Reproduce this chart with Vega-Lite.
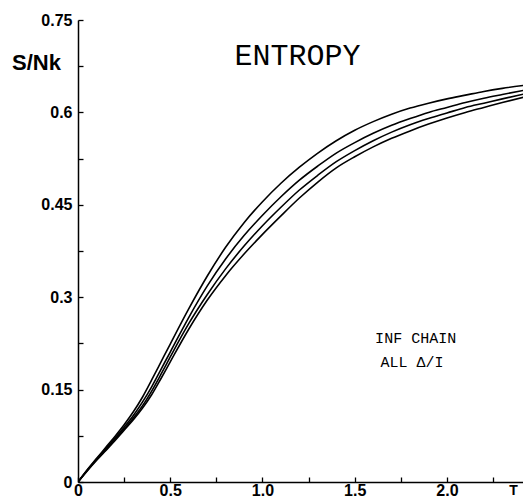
{
  "$schema": "https://vega.github.io/schema/vega-lite/v6.json",
  "width": 445,
  "height": 462,
  "autosize": {"type": "none"},
  "padding": {"left": 78, "top": 20, "right": 0, "bottom": 16},
  "background": "white",
  "config": {
    "view": {"stroke": null},
    "axis": {
      "grid": false,
      "domainColor": "black",
      "domainWidth": 1.5,
      "tickColor": "black",
      "tickWidth": 1.3,
      "labelColor": "black",
      "labelFont": "Liberation Sans",
      "labelFontWeight": "bold",
      "labelFontSize": 16,
      "titleColor": "black",
      "titleFont": "Liberation Sans",
      "titleFontWeight": "bold"
    }
  },
  "datasets": {
    "curves": [
      {"T": 0, "S": 0, "set": "a"}, {"T": 0.05, "S": 0.02, "set": "a"}, {"T": 0.1, "S": 0.038, "set": "a"}, {"T": 0.15, "S": 0.056, "set": "a"}, {"T": 0.2, "S": 0.074, "set": "a"}, {"T": 0.25, "S": 0.093, "set": "a"}, {"T": 0.3, "S": 0.114, "set": "a"}, {"T": 0.35, "S": 0.138, "set": "a"}, {"T": 0.4, "S": 0.166, "set": "a"}, {"T": 0.45, "S": 0.195, "set": "a"}, {"T": 0.5, "S": 0.224, "set": "a"}, {"T": 0.6, "S": 0.281, "set": "a"}, {"T": 0.7, "S": 0.334, "set": "a"}, {"T": 0.8, "S": 0.381, "set": "a"}, {"T": 0.9, "S": 0.421, "set": "a"}, {"T": 1.0, "S": 0.455, "set": "a"}, {"T": 1.1, "S": 0.485, "set": "a"}, {"T": 1.2, "S": 0.511, "set": "a"}, {"T": 1.3, "S": 0.534, "set": "a"}, {"T": 1.4, "S": 0.554, "set": "a"}, {"T": 1.5, "S": 0.571, "set": "a"}, {"T": 1.6, "S": 0.585, "set": "a"}, {"T": 1.7, "S": 0.597, "set": "a"}, {"T": 1.8, "S": 0.607, "set": "a"}, {"T": 1.9, "S": 0.615, "set": "a"}, {"T": 2.0, "S": 0.622, "set": "a"}, {"T": 2.1, "S": 0.628, "set": "a"}, {"T": 2.2, "S": 0.634, "set": "a"}, {"T": 2.3, "S": 0.639, "set": "a"}, {"T": 2.42, "S": 0.644, "set": "a"},
      {"T": 0, "S": 0, "set": "b"}, {"T": 0.05, "S": 0.019, "set": "b"}, {"T": 0.1, "S": 0.037, "set": "b"}, {"T": 0.15, "S": 0.054, "set": "b"}, {"T": 0.2, "S": 0.071, "set": "b"}, {"T": 0.25, "S": 0.089, "set": "b"}, {"T": 0.3, "S": 0.108, "set": "b"}, {"T": 0.35, "S": 0.13, "set": "b"}, {"T": 0.4, "S": 0.155, "set": "b"}, {"T": 0.45, "S": 0.183, "set": "b"}, {"T": 0.5, "S": 0.211, "set": "b"}, {"T": 0.6, "S": 0.267, "set": "b"}, {"T": 0.7, "S": 0.318, "set": "b"}, {"T": 0.8, "S": 0.362, "set": "b"}, {"T": 0.9, "S": 0.4, "set": "b"}, {"T": 1.0, "S": 0.433, "set": "b"}, {"T": 1.1, "S": 0.463, "set": "b"}, {"T": 1.2, "S": 0.49, "set": "b"}, {"T": 1.3, "S": 0.513, "set": "b"}, {"T": 1.4, "S": 0.534, "set": "b"}, {"T": 1.5, "S": 0.551, "set": "b"}, {"T": 1.6, "S": 0.566, "set": "b"}, {"T": 1.7, "S": 0.579, "set": "b"}, {"T": 1.8, "S": 0.59, "set": "b"}, {"T": 1.9, "S": 0.6, "set": "b"}, {"T": 2.0, "S": 0.608, "set": "b"}, {"T": 2.1, "S": 0.616, "set": "b"}, {"T": 2.2, "S": 0.623, "set": "b"}, {"T": 2.3, "S": 0.629, "set": "b"}, {"T": 2.42, "S": 0.636, "set": "b"},
      {"T": 0, "S": 0, "set": "c"}, {"T": 0.05, "S": 0.0185, "set": "c"}, {"T": 0.1, "S": 0.036, "set": "c"}, {"T": 0.15, "S": 0.052, "set": "c"}, {"T": 0.2, "S": 0.069, "set": "c"}, {"T": 0.25, "S": 0.086, "set": "c"}, {"T": 0.3, "S": 0.104, "set": "c"}, {"T": 0.35, "S": 0.124, "set": "c"}, {"T": 0.4, "S": 0.148, "set": "c"}, {"T": 0.45, "S": 0.175, "set": "c"}, {"T": 0.5, "S": 0.203, "set": "c"}, {"T": 0.6, "S": 0.257, "set": "c"}, {"T": 0.7, "S": 0.304, "set": "c"}, {"T": 0.8, "S": 0.346, "set": "c"}, {"T": 0.9, "S": 0.383, "set": "c"}, {"T": 1.0, "S": 0.416, "set": "c"}, {"T": 1.1, "S": 0.446, "set": "c"}, {"T": 1.2, "S": 0.474, "set": "c"}, {"T": 1.3, "S": 0.498, "set": "c"}, {"T": 1.4, "S": 0.52, "set": "c"}, {"T": 1.5, "S": 0.538, "set": "c"}, {"T": 1.6, "S": 0.554, "set": "c"}, {"T": 1.7, "S": 0.568, "set": "c"}, {"T": 1.8, "S": 0.58, "set": "c"}, {"T": 1.9, "S": 0.59, "set": "c"}, {"T": 2.0, "S": 0.599, "set": "c"}, {"T": 2.1, "S": 0.608, "set": "c"}, {"T": 2.2, "S": 0.615, "set": "c"}, {"T": 2.3, "S": 0.622, "set": "c"}, {"T": 2.42, "S": 0.63, "set": "c"},
      {"T": 0, "S": 0, "set": "d"}, {"T": 0.05, "S": 0.018, "set": "d"}, {"T": 0.1, "S": 0.035, "set": "d"}, {"T": 0.15, "S": 0.051, "set": "d"}, {"T": 0.2, "S": 0.067, "set": "d"}, {"T": 0.25, "S": 0.084, "set": "d"}, {"T": 0.3, "S": 0.101, "set": "d"}, {"T": 0.35, "S": 0.12, "set": "d"}, {"T": 0.4, "S": 0.142, "set": "d"}, {"T": 0.45, "S": 0.168, "set": "d"}, {"T": 0.5, "S": 0.195, "set": "d"}, {"T": 0.6, "S": 0.248, "set": "d"}, {"T": 0.7, "S": 0.295, "set": "d"}, {"T": 0.8, "S": 0.335, "set": "d"}, {"T": 0.9, "S": 0.37, "set": "d"}, {"T": 1.0, "S": 0.402, "set": "d"}, {"T": 1.1, "S": 0.432, "set": "d"}, {"T": 1.2, "S": 0.461, "set": "d"}, {"T": 1.3, "S": 0.487, "set": "d"}, {"T": 1.4, "S": 0.51, "set": "d"}, {"T": 1.5, "S": 0.528, "set": "d"}, {"T": 1.6, "S": 0.544, "set": "d"}, {"T": 1.7, "S": 0.558, "set": "d"}, {"T": 1.8, "S": 0.57, "set": "d"}, {"T": 1.9, "S": 0.581, "set": "d"}, {"T": 2.0, "S": 0.591, "set": "d"}, {"T": 2.1, "S": 0.6, "set": "d"}, {"T": 2.2, "S": 0.608, "set": "d"}, {"T": 2.3, "S": 0.616, "set": "d"}, {"T": 2.42, "S": 0.625, "set": "d"}
    ],
    "notes": [
      {"T": 1.19, "S": 0.692, "text": "ENTROPY", "kind": "title"},
      {"T": 1.83, "S": 0.234, "text": "INF CHAIN", "kind": "note"},
      {"T": 1.81, "S": 0.195, "text": "ALL Δ/I", "kind": "note"}
    ]
  },
  "layer": [
    {
      "data": {"name": "curves"},
      "mark": {"type": "line", "clip": true, "color": "black", "strokeCap": "round", "interpolate": "monotone"},
      "encoding": {
        "x": {
          "field": "T", "type": "quantitative",
          "scale": {"domain": [0, 2.412], "nice": false, "zero": false},
          "axis": {
            "values": [0, 0.25, 0.5, 0.75, 1.0, 1.25, 1.5, 1.75, 2.0, 2.25],
            "labelExpr": "datum.value == 0 ? '0' : (datum.value * 2 == round(datum.value * 2) ? format(datum.value, '.1f') : '')",
            "tickSize": -5,
            "labelPadding": 5,
            "labelFlush": false,
            "title": "T",
            "titleFontSize": 14,
            "titleAnchor": "end",
            "titleAlign": "center",
            "titleBaseline": "bottom",
            "titleX": 435,
            "titleY": 15
          }
        },
        "y": {
          "field": "S", "type": "quantitative",
          "scale": {"domain": [0, 0.75], "nice": false},
          "axis": {
            "values": [0, 0.075, 0.15, 0.225, 0.3, 0.375, 0.45, 0.525, 0.6, 0.675, 0.75],
            "format": ".3~f",
            "labelExpr": "indexof(['0', '0.15', '0.3', '0.45', '0.6', '0.75'], datum.label) >= 0 ? datum.label : ''",
            "tickSize": -5,
            "labelPadding": 11,
            "labelFlush": false,
            "title": "S/Nk",
            "titleFontSize": 22,
            "titleAngle": 0,
            "titleAlign": "center",
            "titleBaseline": "middle",
            "titleX": -42,
            "titleY": 42
          }
        },
        "detail": {"field": "set", "type": "nominal"},
        "strokeWidth": {
          "field": "set", "type": "nominal",
          "scale": {"domain": ["a", "b", "c", "d"], "range": [1.6, 1.6, 1.8, 3.4]},
          "legend": null
        }
      }
    },
    {
      "data": {"name": "notes"},
      "transform": [{"filter": "datum.kind == 'title'"}],
      "mark": {"type": "text", "font": "Liberation Mono", "fontSize": 30, "color": "black", "align": "center", "baseline": "middle"},
      "encoding": {
        "x": {"field": "T", "type": "quantitative"},
        "y": {"field": "S", "type": "quantitative"},
        "text": {"field": "text"}
      }
    },
    {
      "data": {"name": "notes"},
      "transform": [{"filter": "datum.kind == 'note'"}],
      "mark": {"type": "text", "font": "Liberation Mono", "fontSize": 15, "color": "black", "align": "center", "baseline": "middle"},
      "encoding": {
        "x": {"field": "T", "type": "quantitative"},
        "y": {"field": "S", "type": "quantitative"},
        "text": {"field": "text"}
      }
    }
  ]
}
